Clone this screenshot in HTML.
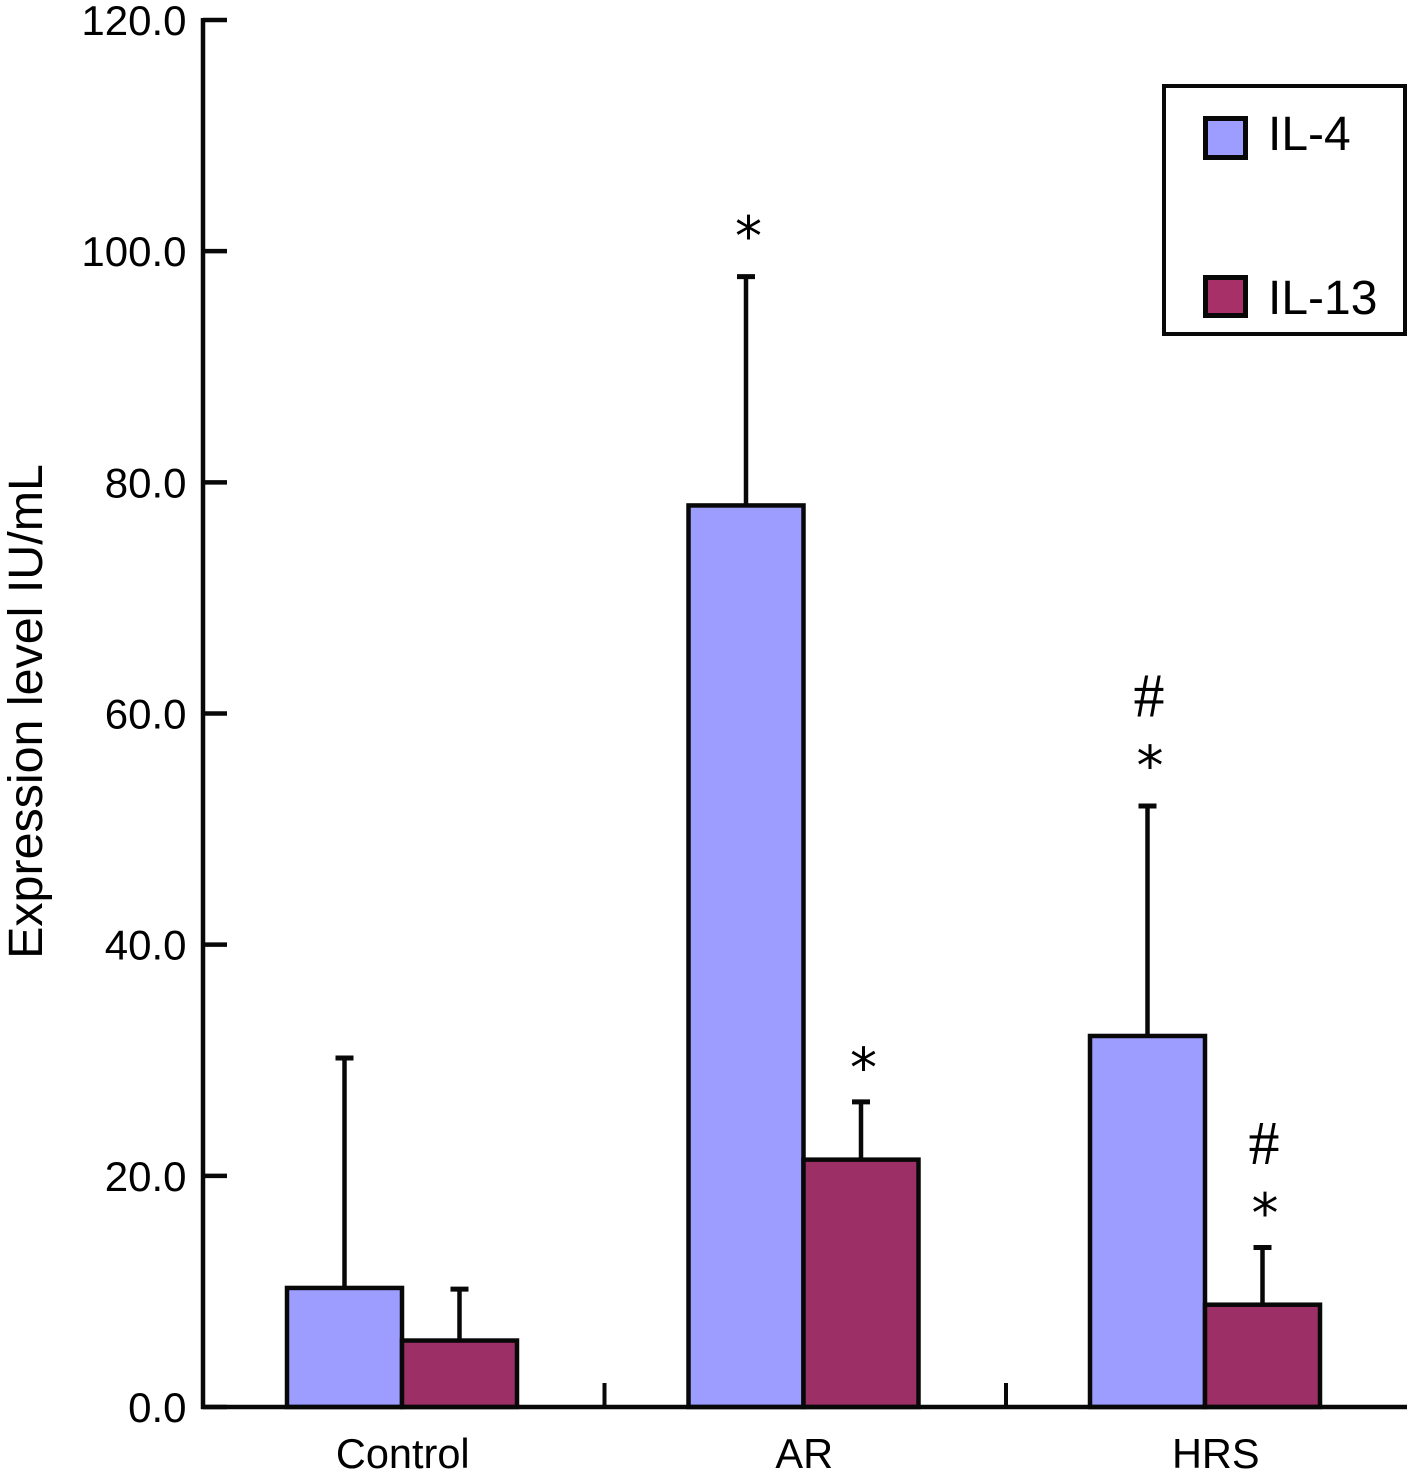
<!DOCTYPE html>
<html>
<head>
<meta charset="utf-8">
<style>
html,body{margin:0;padding:0;background:#fff;}
svg{display:block;}
text{font-family:"Liberation Sans",sans-serif;fill:#000;}
text.mark-star{font-family:"DejaVu Sans",sans-serif;}
text.mark-hash{font-family:"Liberation Serif",serif;}
</style>
</head>
<body>
<svg id="chart" xmlns="http://www.w3.org/2000/svg" width="1407" height="1477" viewBox="0 0 1407 1477"></svg>
<script>
const categories = ['Control', 'AR', 'HRS'];
const il4Values = [10.3, 78, 32.1];
const il13Values = [5.75, 21.4, 8.85];
const il4Upper = [30.2, 97.8, 52];
const il13Upper = [10.2, 26.4, 13.8];
const yTickLabels = ['0.0', '20.0', '40.0', '60.0', '80.0', '100.0', '120.0'];
const yTickValues = [0, 20, 40, 60, 80, 100, 120];
const il4Marks = [[], ['*'], ['#', '*']];
const il13Marks = [[], ['*'], ['#', '*']];

const svg = document.getElementById('chart');
const NS = 'http://www.w3.org/2000/svg';
const INK = '#080808';
const y = v => 1407 - v * (1407 - 20) / 120;
const groupLeft = i => 203 + i * 401.5;
const groupWidth = 401.5;
const barW = 115;
const il4X = i => groupLeft(i) + 84;
const il13X = i => il4X(i) + barW;
const labelNudge = i => (i === 2 ? 10 : 0);

function line(x1, y1, x2, y2, w, name) {
  const el = document.createElementNS(NS, 'line');
  el.setAttribute('x1', x1);
  el.setAttribute('y1', y1);
  el.setAttribute('x2', x2);
  el.setAttribute('y2', y2);
  el.setAttribute('stroke', INK);
  el.setAttribute('stroke-width', w);
  
  
  svg.appendChild(el);
}
function text(x, yy, str, size, anchor, name) {
  const el = document.createElementNS(NS, 'text');
  el.setAttribute('x', x);
  el.setAttribute('y', yy);
  el.setAttribute('font-size', size);
  el.setAttribute('text-anchor', anchor);
  
  
  el.textContent = str;
  svg.appendChild(el);
  return el;
}
function rect(x, yy, w, h, fill, sw, name) {
  const el = document.createElementNS(NS, 'rect');
  el.setAttribute('x', x);
  el.setAttribute('y', yy);
  el.setAttribute('width', w);
  el.setAttribute('height', h);
  el.setAttribute('fill', fill);
  el.setAttribute('stroke', INK);
  el.setAttribute('stroke-width', sw);
  
  
  svg.appendChild(el);
}
function drawBar(x, value, upper, fill, name) {
  const cx = x + barW / 2;
  line(cx, y(value), cx, y(upper), 4.5, name + '-error-bar');
  line(cx - 9, y(upper), cx + 9, y(upper), 5, name + '-error-cap');
  rect(x, y(value), barW, y(0) - y(value), fill, 4.5, name);
}
function drawMarks(x, upper, marks, gap, name) {
  const cx = x + barW / 2 + 2.5;
  const n = marks.length;
  marks.forEach((m, j) => {
    const centerY = y(upper) - gap - (n - 1 - j) * 60;
    const isStar = m === '*';
    const size = isStar ? 54 : 62;
    const baseline = isStar ? centerY + 28 : centerY + 20;
    const el = text(cx - (isStar ? 0 : 1), baseline, m, size, 'middle', name + '-significance-mark');
    el.setAttribute('class', isStar ? 'mark-star' : 'mark-hash');
  });
}

categories.forEach((c, i) => {
  drawBar(il4X(i), il4Values[i], il4Upper[i], '#9d9dff', 'bar-il4-' + c.toLowerCase());
  drawBar(il13X(i), il13Values[i], il13Upper[i], '#9c3066', 'bar-il13-' + c.toLowerCase());
  drawMarks(il4X(i), il4Upper[i], il4Marks[i], 49.5, 'il4-' + c.toLowerCase());
  drawMarks(il13X(i), il13Upper[i], il13Marks[i], 43.5, 'il13-' + c.toLowerCase());
  text(groupLeft(i) + groupWidth / 2 - 1 + labelNudge(i), 1468, c, 41.5, 'middle', 'x-tick-label-' + c.toLowerCase());
});

line(203, y(120) - 2, 203, y(0) + 2, 4.5, 'y-axis');
line(201, y(0), 1407, y(0), 4.5, 'x-axis');
yTickValues.forEach((v, i) => {
  line(203, y(v), 227, y(v), 4.5, 'y-tick');
  text(186.5, y(v) + 15, yTickLabels[i], 42, 'end', 'y-tick-label');
});
[1, 2, 3].forEach(i => {
  if (groupLeft(i) < 1407) line(groupLeft(i), y(0), groupLeft(i), y(0) - 24, 4, 'x-tick');
});

const title = text(0, 0, 'Expression level IU/mL', 48.4, 'middle', 'y-axis-title');
title.setAttribute('transform', 'translate(42,711.5) rotate(-90)');

rect(1164, 86, 241, 248, '#fff', 4, 'legend-box');
rect(1205.5, 118.5, 40, 39, '#9d9dff', 5, 'legend-swatch-il4');
rect(1205.5, 277.5, 40, 38, '#a83068', 5, 'legend-swatch-il13');
text(1268, 150, 'IL-4', 48, 'start', 'legend-label-il4');
text(1268, 314, 'IL-13', 48, 'start', 'legend-label-il13');
</script>
</body>
</html>
